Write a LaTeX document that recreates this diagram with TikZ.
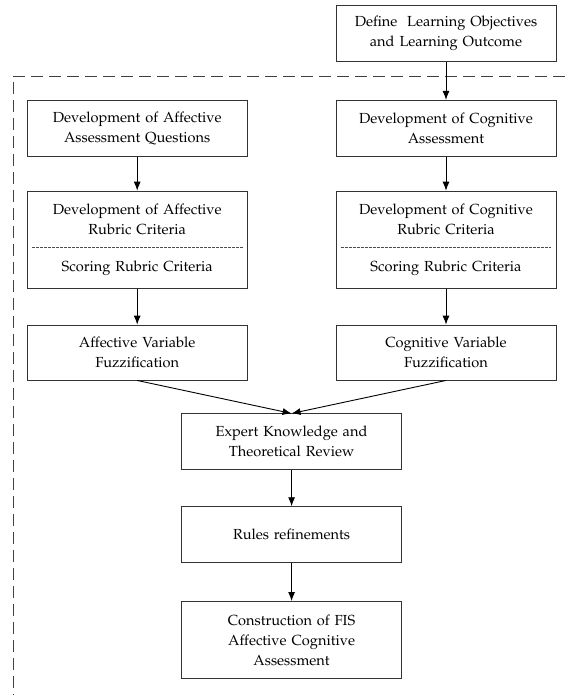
\documentclass[tikz,border=0pt]{standalone}
\usepackage[T1]{fontenc}
\usepackage{mathpazo}
\usepackage{tikz}
\usetikzlibrary{calc, positioning, arrows.meta, shapes.multipart}
\tikzset{
 block/.style = {
    rectangle, draw=black!80, line width=0.8pt,
    text width=212pt, inner xsep=4pt,
    text centered,
    font=\fontsize{14.6}{20}\selectfont,
    minimum height=56pt},
 two part/.style = {
    block, rectangle split, rectangle split parts=2,
    rectangle split draw splits=false,
    minimum height=0pt, inner ysep=12.5pt},
 line/.style = {
    draw, line width=0.9pt, -{Latex[length=9pt, width=7pt]}},
 split line/.style = {
    draw=black!70, line width=0.6pt, dash pattern=on 3pt off 1pt},
 frame line/.style = {
    draw=black!75, line width=0.7pt, dash pattern=on 12pt off 6pt},
}

\begin{document}
\begin{tikzpicture}[x=1pt, y=-1pt, node distance=35pt]
\useasboundingbox (0,0) rectangle (565,695);

% Place nodes
\node [block] (lo) at (446,33.5) {Define \ Learning Objectives\\and Learning Outcome};
\node [block, below=38pt of lo] (cogq) {Development of Cognitive\\Assessment};
\node [block, left=88pt of cogq] (affq) {Development of Affective\\Assessment Questions};
\node [two part, below=34pt of cogq] (cogr) {Development of Cognitive\\Rubric Criteria
    \nodepart{two}Scoring Rubric Criteria};
\node [two part, below=34pt of affq] (affr) {Development of Affective\\Rubric Criteria
    \nodepart{two}Scoring Rubric Criteria};
\node [block, below=36pt of cogr, minimum height=55pt] (cogf) {Cognitive Variable\\Fuzzification};
\node [block, below=36pt of affr, minimum height=55pt] (afff) {Affective Variable\\Fuzzification};
\coordinate (mid) at ($(afff.south)!0.5!(cogf.south)$);
\node [block, below=33pt of mid, minimum height=56pt] (exp) {Expert Knowledge and\\Theoretical Review};
\node [block, below=36pt of exp] (rules) {Rules refinements};
\node [block, below=38pt of rules, minimum height=77pt] (fis) {Construction of FIS\\Affective Cognitive\\Assessment};

% dashed frame
\draw [frame line] (565,76) -- (13,76) -- (13,695);

% separators
\draw [split line] ($(affr.text split west)+(5,0)$) -- ($(affr.text split east)+(-5,0)$);
\draw [split line] ($(cogr.text split west)+(5,0)$) -- ($(cogr.text split east)+(-5,0)$);

\draw[line] (lo) -- (cogq);
\draw[line] (affq) -- (affr);
\draw[line] (cogq) -- (cogr);
\draw[line] (affr) -- (afff);
\draw[line] (cogr) -- (cogf);
\draw[line] (afff.south) -- (exp.north);
\draw[line] (cogf.south) -- (exp.north);
\draw[line] (exp) -- (rules);
\draw[line] (rules) -- (fis);
\end{tikzpicture}
\end{document}
